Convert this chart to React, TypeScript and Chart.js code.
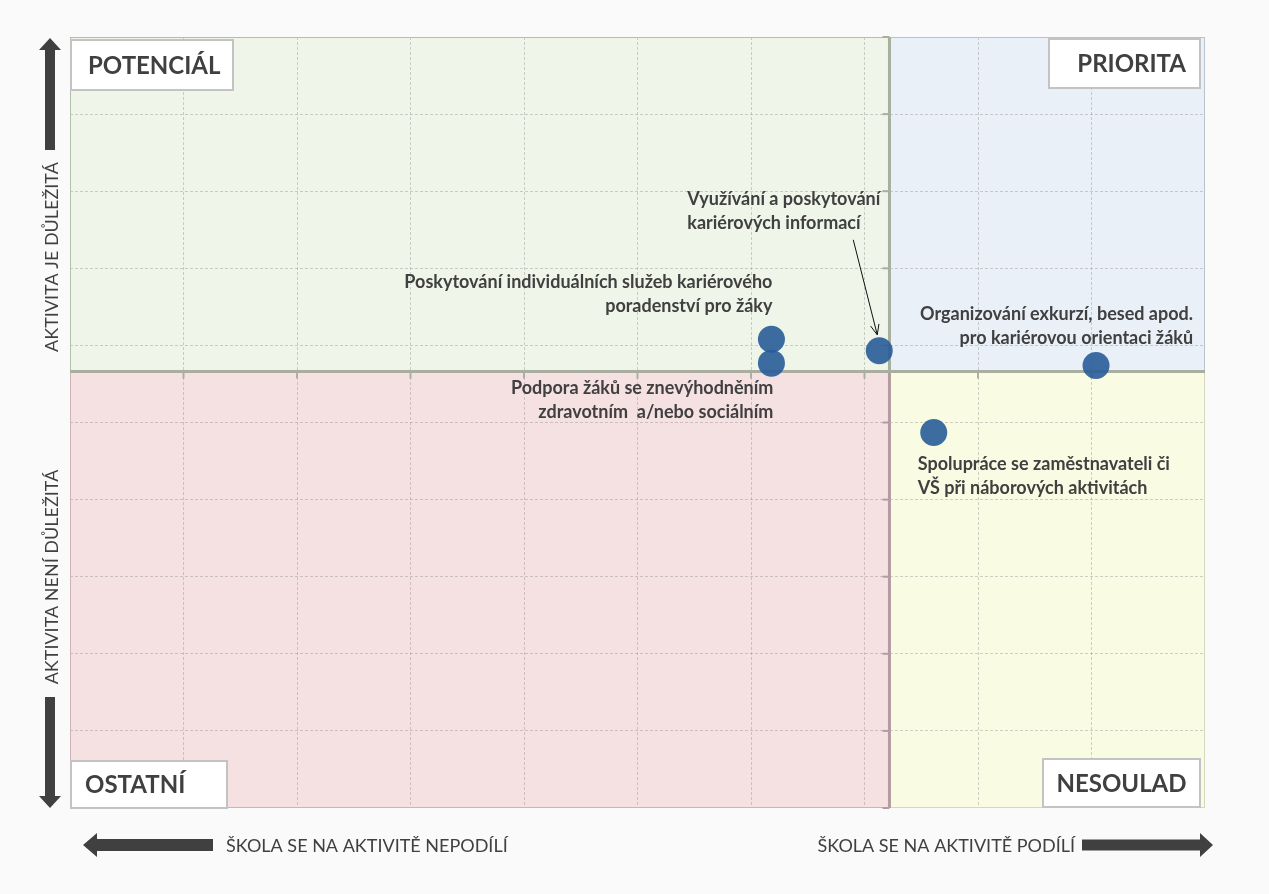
import React, { useEffect, useRef } from "react";
import { Chart, registerables } from "chart.js";

Chart.register(...registerables);

// ---------- data ----------
const activityNames = [
  "Poskytování individuálních služeb kariérového poradenství pro žáky",
  "Podpora žáků se znevýhodněním zdravotním a/nebo sociálním",
  "Využívání a poskytování kariérových informací",
  "Organizování exkurzí, besed apod. pro kariérovou orientaci žáků",
  "Spolupráce se zaměstnavateli či VŠ při náborových aktivitách",
];
const participationX = [61.8, 61.8, 71.3, 90.4, 76.1];
const importanceY = [60.8, 57.7, 59.3, 57.4, 48.7];
const labelLines = [
  ["Poskytování individuálních služeb kariérového", "poradenství pro žáky"],
  ["Podpora žáků se znevýhodněním", "zdravotním  a/nebo sociálním"],
  ["Využívání a poskytování", "kariérových informací"],
  ["Organizování exkurzí, besed apod.", "pro kariérovou orientaci žáků"],
  ["Spolupráce se zaměstnavateli či", "VŠ při náborových aktivitách"],
];
const quadrantNames = ["POTENCIÁL", "PRIORITA", "OSTATNÍ", "NESOULAD"];
const dividerX = [72.2];
const dividerY = [56.6];
const xAxisTexts = ["ŠKOLA SE NA AKTIVITĚ NEPODÍLÍ", "ŠKOLA SE NA AKTIVITĚ PODÍLÍ"];
const yAxisTexts = ["AKTIVITA JE DŮLEŽITÁ", "AKTIVITA NENÍ DŮLEŽITÁ"];
const axisMin = [0];
const axisMax = [100];
const axisStep = [10];

// ---------- styles ----------
const FONT = "Lato, 'Open Sans', sans-serif";
const TEXT = "#404040";
const GRID = "rgba(140,140,140,0.4)";
const labelStyle = [
  { align: "right", dx: 1, dy: -57 },
  { align: "right", dx: 2, dy: 25 },
  { align: "left", dx: -192, dy: -152, arrow: [-26, -111, -2, -16] },
  { align: "right", dx: 97, dy: -51 },
  { align: "left", dx: -16, dy: 32 },
];

function drawArrowShape(ctx, tipX, tipY, dir, len, shaft, headLen, headW) {
  ctx.save();
  ctx.fillStyle = "#404040";
  ctx.translate(tipX, tipY);
  const rot = { up: 0, right: Math.PI / 2, down: Math.PI, left: -Math.PI / 2 }[dir];
  ctx.rotate(rot);
  ctx.beginPath();
  ctx.moveTo(0, 0);
  ctx.lineTo(headW / 2, headLen);
  ctx.lineTo(shaft / 2, headLen);
  ctx.lineTo(shaft / 2, len);
  ctx.lineTo(-shaft / 2, len);
  ctx.lineTo(-shaft / 2, headLen);
  ctx.lineTo(-headW / 2, headLen);
  ctx.closePath();
  ctx.fill();
  ctx.restore();
}

const quadrantPlugin = {
  id: "quadrants",
  beforeDraw(chart) {
    const { ctx, chartArea: a, scales } = chart;
    const xm = scales.x.getPixelForValue(dividerX[0]);
    const ym = scales.y.getPixelForValue(dividerY[0]);
    ctx.save();
    ctx.fillStyle = "#fafafa";
    ctx.fillRect(0, 0, chart.width, chart.height);
    const quads = [
      [a.left, a.top, xm, ym, "#f0f5ea"],
      [xm, a.top, a.right, ym, "#e9f0f8"],
      [a.left, ym, xm, a.bottom, "#f5e0e2"],
      [xm, ym, a.right, a.bottom, "#fafbe3"],
    ];
    quads.forEach(([x0, y0, x1, y1, fill]) => {
      ctx.fillStyle = fill;
      ctx.fillRect(x0, y0, x1 - x0, y1 - y0);
    });
    ctx.restore();
  },
  beforeDatasetsDraw(chart) {
    const { ctx, chartArea: a, scales } = chart;
    const xm = scales.x.getPixelForValue(dividerX[0]);
    const ym = scales.y.getPixelForValue(dividerY[0]);
    ctx.save();
    // quadrant outlines
    const outlines = [
      [a.left, a.top, xm, ym, "#b4bfa8"],
      [xm, a.top, a.right, ym, "#b9c3ce"],
      [a.left, ym, xm, a.bottom, "#cdb2b7"],
      [xm, ym, a.right, a.bottom, "#d6d8bc"],
    ];
    ctx.lineWidth = 1;
    outlines.forEach(([x0, y0, x1, y1, stroke]) => {
      ctx.strokeStyle = stroke;
      ctx.strokeRect(x0 + 0.5, y0 + 0.5, x1 - x0 - 1, y1 - y0 - 1);
    });
    // ticks along dividers
    ctx.lineWidth = 2;
    for (let v = axisMin[0]; v <= axisMax[0]; v += axisStep[0]) {
      const px = scales.x.getPixelForValue(v);
      if (px > a.left + 2 && px < a.right - 2) {
        ctx.strokeStyle = "#aab0a2";
        ctx.beginPath();
        ctx.moveTo(px, ym);
        ctx.lineTo(px, ym + 7);
        ctx.stroke();
      }
      const py = scales.y.getPixelForValue(v);
      ctx.strokeStyle = py < ym ? "#a6b09e" : "#b49ca2";
      ctx.beginPath();
      ctx.moveTo(xm, py);
      ctx.lineTo(xm - 7, py);
      ctx.stroke();
    }
    // divider lines
    ctx.lineWidth = 3;
    ctx.strokeStyle = "#a6b09e";
    ctx.beginPath();
    ctx.moveTo(xm, a.top);
    ctx.lineTo(xm, ym);
    ctx.stroke();
    ctx.strokeStyle = "#b49ca2";
    ctx.beginPath();
    ctx.moveTo(xm, ym);
    ctx.lineTo(xm, a.bottom);
    ctx.stroke();
    ctx.strokeStyle = "#a9aea0";
    ctx.beginPath();
    ctx.moveTo(a.left, ym);
    ctx.lineTo(a.right, ym);
    ctx.stroke();
    ctx.restore();
  },
  afterDraw(chart) {
    const { ctx, chartArea: a, scales } = chart;
    ctx.save();
    // quadrant label boxes
    const boxes = [
      { x: a.left + 1, y: a.top + 3, w: 162, h: 50, align: "left", pad: 17 },
      { x: a.right - 156, y: a.top + 2, w: 151, h: 49, align: "right", pad: 14 },
      { x: a.left + 1, y: a.bottom - 47, w: 156, h: 47, align: "left", pad: 14 },
      { x: a.right - 162, y: a.bottom - 49, w: 157, h: 48, align: "center", pad: 0 },
    ];
    ctx.font = `bold 24px ${FONT}`;
    ctx.textBaseline = "middle";
    boxes.forEach((b, i) => {
      ctx.fillStyle = "#ffffff";
      ctx.fillRect(b.x, b.y, b.w, b.h);
      ctx.strokeStyle = "#c3c3c3";
      ctx.lineWidth = 2;
      ctx.strokeRect(b.x, b.y, b.w, b.h);
      ctx.fillStyle = TEXT;
      ctx.textAlign = b.align;
      const tx = b.align === "left" ? b.x + b.pad : b.align === "right" ? b.x + b.w - b.pad : b.x + b.w / 2;
      ctx.fillText(quadrantNames[i], tx, b.y + b.h / 2 + 1);
    });

    // point annotations
    ctx.font = `bold 18px ${FONT}`;
    labelLines.forEach((lines, i) => {
      const px = scales.x.getPixelForValue(participationX[i]);
      const py = scales.y.getPixelForValue(importanceY[i]);
      const s = labelStyle[i];
      ctx.fillStyle = TEXT;
      ctx.textAlign = s.align;
      lines.forEach((ln, j) => ctx.fillText(ln, px + s.dx, py + s.dy + j * 24));
      if (s.arrow) {
        const [x0, y0, x1, y1] = s.arrow;
        const sx = px + x0, sy = py + y0, ex = px + x1, ey = py + y1;
        ctx.strokeStyle = "#111";
        ctx.lineWidth = 1;
        ctx.beginPath();
        ctx.moveTo(sx, sy);
        ctx.lineTo(ex, ey);
        const ang = Math.atan2(ey - sy, ex - sx);
        const hl = 11;
        ctx.moveTo(ex - hl * Math.cos(ang - 0.4), ey - hl * Math.sin(ang - 0.4));
        ctx.lineTo(ex, ey);
        ctx.lineTo(ex - hl * Math.cos(ang + 0.4), ey - hl * Math.sin(ang + 0.4));
        ctx.stroke();
      }
    });

    // axis descriptions
    ctx.font = `18px ${FONT}`;
    ctx.fillStyle = TEXT;
    ctx.textAlign = "left";
    ctx.fillText(xAxisTexts[0], 226, a.bottom + 38);
    ctx.textAlign = "right";
    ctx.fillText(xAxisTexts[1], 1075, a.bottom + 38);
    drawArrowShape(ctx, 83, a.bottom + 37, "left", 130, 12, 14, 24);
    drawArrowShape(ctx, 1213, a.bottom + 37, "right", 131, 11, 13, 24);

    ctx.textAlign = "center";
    ctx.save();
    ctx.translate(52, 257);
    ctx.rotate(-Math.PI / 2);
    ctx.fillText(yAxisTexts[0], 0, 0);
    ctx.restore();
    ctx.save();
    ctx.translate(52, 577);
    ctx.rotate(-Math.PI / 2);
    ctx.fillText(yAxisTexts[1], 0, 0);
    ctx.restore();
    drawArrowShape(ctx, 50, a.top + 1, "up", 112, 10, 12, 22);
    drawArrowShape(ctx, 50, a.bottom, "down", 111, 10, 12, 22);
    ctx.restore();
  },
};

const gridColor = (c) =>
  c.tick && (c.tick.value === axisMin[0] || c.tick.value === axisMax[0]) ? "rgba(0,0,0,0)" : GRID;

export default function App() {
  const ref = useRef(null);
  useEffect(() => {
    document.body.style.margin = "0";
    document.body.style.background = "#fafafa";
    const chart = new Chart(ref.current, {
      type: "scatter",
      data: {
        datasets: [
          {
            label: "Aktivity",
            data: participationX.map((x, i) => ({ x, y: importanceY[i], name: activityNames[i] })),
            backgroundColor: "rgba(40, 92, 152, 0.9)",
            borderWidth: 0,
            pointRadius: 13.5,
            pointHoverRadius: 13.5,
          },
        ],
      },
      options: {
        responsive: false,
        animation: false,
        layout: { padding: { left: 70, right: 64, top: 37, bottom: 86 } },
        plugins: { legend: { display: false }, tooltip: { enabled: false } },
        scales: {
          x: {
            type: "linear",
            min: axisMin[0],
            max: axisMax[0],
            ticks: { display: false, stepSize: axisStep[0] },
            grid: { color: gridColor, drawTicks: false, lineWidth: 1 },
            border: { display: false, dash: [3, 2] },
          },
          y: {
            type: "linear",
            min: axisMin[0],
            max: axisMax[0],
            ticks: { display: false, stepSize: axisStep[0] },
            grid: { color: gridColor, drawTicks: false, lineWidth: 1 },
            border: { display: false, dash: [3, 2] },
          },
        },
      },
      plugins: [quadrantPlugin],
    });
    return () => chart.destroy();
  }, []);
  return <canvas ref={ref} width={1269} height={894} style={{ display: "block" }} />;
}
